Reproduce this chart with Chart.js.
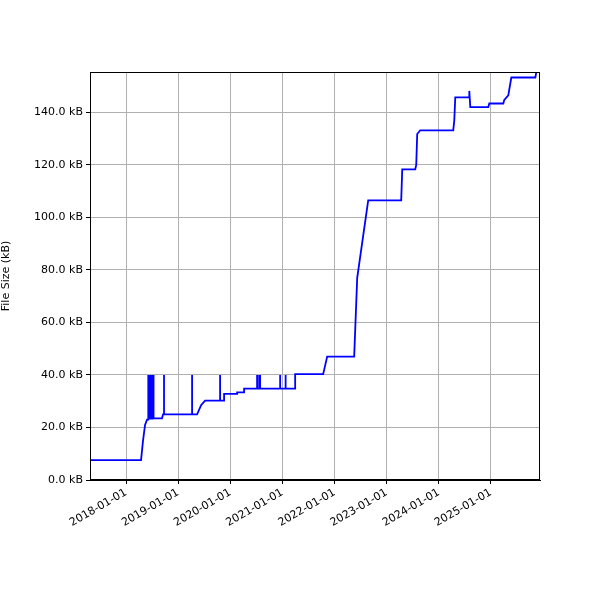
<!DOCTYPE html>
<html><head><script src="https://cdn.jsdelivr.net/npm/chart.js@4"></script>
<style>body{margin:0;background:#fff}#w{width:600px;height:600px}</style></head>
<body><div id="w"><canvas id="c"></canvas></div>
<script>
const years=[2017.309,2018.288,2018.326,2018.365,2018.403,
2018.422,2018.422,2018.432,2018.441,2018.451,2018.461,2018.470,2018.480,2018.490,2018.499,2018.509,2018.518,2018.528,
2018.691,2018.710,2018.729,2018.729,2018.729,
2019.267,2019.267,2019.267,2019.363,2019.44,2019.516,
2019.804,2019.804,2019.804,2019.881,2019.881,2020.131,2020.131,2020.265,2020.265,
2020.514,2020.514,2020.514,2020.553,2020.553,2020.553,2020.572,2020.572,2020.572,
2020.956,2020.956,2020.956,2021.061,2021.061,2021.061,
2021.244,2021.244,2021.781,2021.858,2022.376,2022.434,2022.645,2023.278,2023.298,2023.547,2023.566,2023.585,2023.643,2024.276,2024.296,2024.315,2024.584,2024.584,2024.603,2024.948,2024.967,2025.236,2025.255,2025.332,2025.390,2025.851,2025.870];
const sizes=[7.6,7.6,15,21,23,
23,40,23,40,23,40,23,40,23,40,23,40,23.5,
23.5,25,25,40,25,
25,40,25,25,28.5,30.2,
30.2,40,30.2,30.2,32.8,32.8,33.4,33.4,34.8,
34.8,40,34.8,34.8,40,34.8,34.8,40,34.8,
34.8,40,34.8,34.8,40,34.8,
34.8,40.3,40.3,47,47,77,106.5,106.5,118.3,118.3,120,131.8,133.2,133.2,137,145.7,145.7,148.2,142,142,143.4,143.4,144.8,146.5,153.3,153.3,155.5];
const xTicks=[2018,2019,2020,2021,2022,2023,2024,2025];
const yTicks=[0,20,40,60,80,100,120,140];
const font={family:'DejaVu Sans',size:11};
const frame={id:'frame',afterDraw(c){const a=c.chartArea,x=c.ctx;x.save();x.strokeStyle='#000';x.lineWidth=1;x.strokeRect(a.left+0.5,a.top+0.5,a.right-a.left-1,a.bottom-a.top-1);x.restore();}};
new Chart(document.getElementById('c'),{type:'line',plugins:[frame],
data:{datasets:[{data:years.map((y,i)=>({x:y,y:sizes[i]})),borderColor:'#0000ff',borderWidth:1.8,pointRadius:0,tension:0,fill:false}]},
options:{animation:false,responsive:true,maintainAspectRatio:false,devicePixelRatio:1,
layout:{padding:{top:72,right:60,left:0,bottom:0}},
plugins:{legend:{display:false},tooltip:{enabled:false}},
scales:{
x:{type:'linear',min:2017.309,max:2025.94,
afterBuildTicks:s=>{s.ticks=xTicks.map(v=>({value:v}))},
afterFit:s=>{s.height=120},
ticks:{color:'#000',font,minRotation:30,maxRotation:30,padding:2,callback:v=>v+'-01-01'},
grid:{color:'#b0b0b0',tickColor:'#000',tickLength:4},border:{color:'#000'}},
y:{min:0,max:155.4,
afterBuildTicks:s=>{s.ticks=yTicks.map(v=>({value:v}))},
afterFit:s=>{s.width=90},
ticks:{color:'#000',font,callback:v=>v.toFixed(1)+' kB'},
title:{display:true,text:'File Size (kB)',color:'#000',font:{family:'DejaVu Sans',size:11},padding:{top:0,bottom:2}},
grid:{color:'#b0b0b0',tickColor:'#000',tickLength:4},border:{color:'#000'}}
}}});
</script></body></html>
